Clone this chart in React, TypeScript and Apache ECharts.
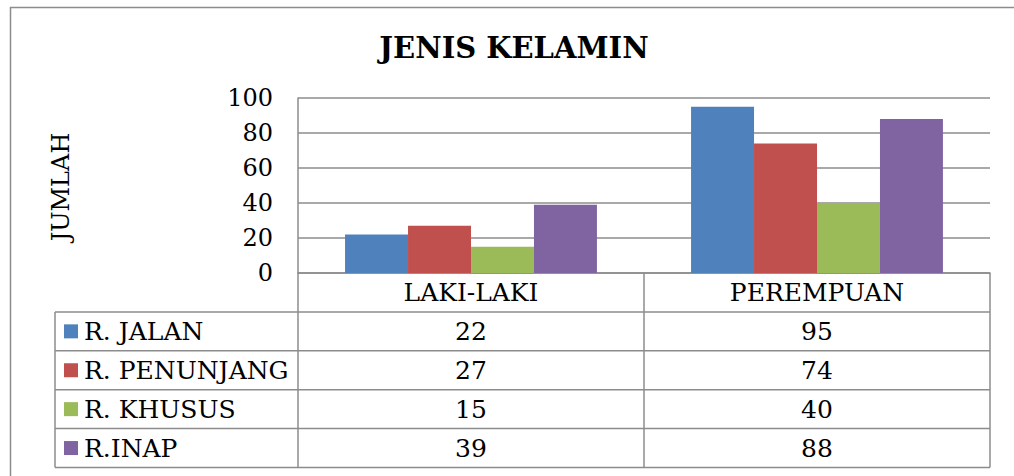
import React, { useEffect, useRef } from "react";
import * as echarts from "echarts";

// ---- data ----
const chartTitle = "JENIS KELAMIN";
const yAxisName = "JUMLAH";
const categories = ["LAKI-LAKI", "PEREMPUAN"];
const seriesNames = ["R. JALAN", "R. PENUNJANG", "R. KHUSUS", "R.INAP"];
const rJalan = [22, 95];
const rPenunjang = [27, 74];
const rKhusus = [15, 40];
const rInap = [39, 88];
const seriesValues = [rJalan, rPenunjang, rKhusus, rInap];
const seriesColors = ["#4F81BD", "#C0504D", "#9BBB59", "#8064A2"];
const yMin = 0;
const yMax = 100;
const yInterval = 20;

// ---- layout ----
const W = 1014;
const H = 476;
const plotL = 298;
const plotR = 990;
const plotT = 98;
const plotB = 273;
const rowH = 38.9;
const legendL = 55;
const gridColor = "#8c8c8c";
const FONT = "DejaVu Serif";

export default function App() {
  const ref = useRef<HTMLDivElement>(null);

  useEffect(() => {
    if (!ref.current) return;
    const chart = echarts.init(ref.current, null, { renderer: "svg" });

    const catW = (plotR - plotL) / categories.length;
    const catCenter = (i: number) => plotL + catW * (i + 0.5);
    const rowTop = (i: number) => plotB + rowH * i; // i=0 header
    const tableBottom = rowTop(seriesNames.length + 1);
    const line = (x1: number, y1: number, x2: number, y2: number) => ({
      type: "line",
      silent: true,
      shape: { x1, y1, x2, y2 },
      style: { stroke: gridColor, lineWidth: 1.5 },
    });

    const graphics: any[] = [];
    // outer border (cropped)
    graphics.push({
      type: "polyline",
      silent: true,
      shape: { points: [[10.5, H], [10.5, 7.5], [W, 7.5]] },
      style: { stroke: "#8c8c8c", lineWidth: 1.5, fill: null },
    });
    // title
    graphics.push({
      type: "text",
      x: 514,
      y: 48,
      style: {
        text: chartTitle,
        font: `bold 29px "${FONT}"`,
        fill: "#000",
        align: "center",
        verticalAlign: "middle",
      },
    });
    // y axis name
    graphics.push({
      type: "text",
      x: 61,
      y: 187,
      rotation: Math.PI / 2,
      style: {
        text: yAxisName,
        font: `24px "${FONT}"`,
        fill: "#000",
        align: "center",
        verticalAlign: "middle",
      },
    });
    // table lines
    graphics.push(line(plotL, plotB, plotL, tableBottom));
    graphics.push(line(plotL + catW, plotB, plotL + catW, tableBottom));
    graphics.push(line(plotR, plotB, plotR, tableBottom));
    graphics.push(line(legendL, rowTop(1), legendL, tableBottom));
    for (let r = 1; r <= seriesNames.length + 1; r++) {
      graphics.push(line(legendL, rowTop(r), plotR, rowTop(r)));
    }
    // legend + values
    seriesNames.forEach((name, s) => {
      const cy = rowTop(s + 1) + rowH / 2;
      graphics.push({
        type: "rect",
        silent: true,
        shape: { x: 64, y: cy - 7, width: 14, height: 14 },
        style: { fill: seriesColors[s] },
      });
      graphics.push({
        type: "text",
        x: 84,
        y: cy,
        style: {
          text: name,
          font: `25px "${FONT}"`,
          fill: "#000",
          align: "left",
          verticalAlign: "middle",
        },
      });
      seriesValues[s].forEach((v, c) => {
        graphics.push({
          type: "text",
          x: catCenter(c),
          y: cy,
          style: {
            text: String(v),
            font: `25px "${FONT}"`,
            fill: "#000",
            align: "center",
            verticalAlign: "middle",
          },
        });
      });
    });

    chart.setOption({
      animation: false,
      backgroundColor: "#fff",
      grid: {
        left: plotL,
        right: W - plotR,
        top: plotT,
        bottom: H - plotB,
        containLabel: false,
      },
      xAxis: {
        type: "category",
        data: categories,
        axisLine: { show: true, lineStyle: { color: gridColor, width: 1.5 } },
        axisTick: { show: false },
        axisLabel: {
          show: true,
          margin: 19,
          verticalAlign: "middle",
          color: "#000",
          fontFamily: FONT,
          fontSize: 25,
        },
        splitLine: { show: false },
      },
      yAxis: {
        type: "value",
        min: yMin,
        max: yMax,
        interval: yInterval,
        axisLine: { show: true, lineStyle: { color: gridColor, width: 1.5 } },
        axisTick: { show: false },
        axisLabel: {
          margin: 25,
          color: "#000",
          fontFamily: FONT,
          fontSize: 24,
        },
        splitLine: { show: true, lineStyle: { color: gridColor, width: 1.5 } },
      },
      series: seriesNames.map((name, s) => ({
        type: "bar",
        name,
        data: seriesValues[s],
        barGap: "0%",
        barCategoryGap: "27.2%",
        itemStyle: { color: seriesColors[s] },
      })),
      graphic: graphics,
    });

    return () => chart.dispose();
  }, []);

  return (
    <div
      ref={ref}
      style={{ position: "fixed", left: 0, top: 0, width: W, height: H }}
    />
  );
}
